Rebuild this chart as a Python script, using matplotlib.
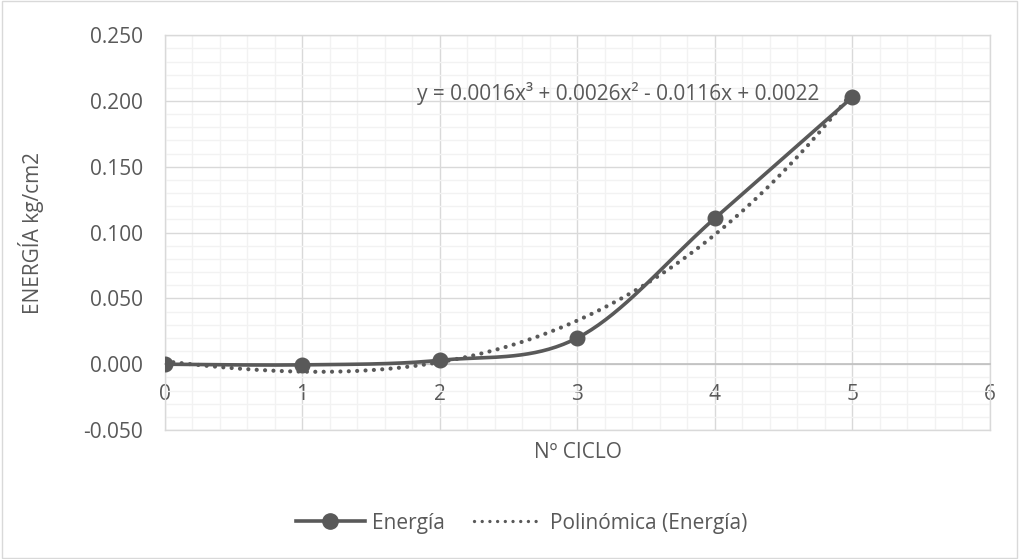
import matplotlib.pyplot as plt
import numpy as np
from matplotlib.patches import Rectangle
from matplotlib.lines import Line2D

plt.rcParams['font.family'] = ['Open Sans', 'DejaVu Sans']

ciclo = [0, 1, 2, 3, 4, 5]
energia = [0.000, -0.0005, 0.003, 0.020, 0.111, 0.203]
y_ticks = [-0.050, 0.000, 0.050, 0.100, 0.150, 0.200, 0.250]
x_ticks = [0, 1, 2, 3, 4, 5, 6]

GRAY = '#595959'
TXT = '#595959'
FS = 15


def smooth(x, y, n=40):
    # catmull-rom style smoothing like Excel's smoothed line
    x = np.asarray(x, float)
    y = np.asarray(y, float)
    px = np.concatenate([[x[0]], x, [x[-1]]])
    py = np.concatenate([[y[0]], y, [y[-1]]])
    xs, ys = [], []
    t = np.linspace(0, 1, n)
    for i in range(1, len(px) - 2):
        p0 = np.array([px[i], py[i]])
        p3 = np.array([px[i + 1], py[i + 1]])
        c1 = p0 + (np.array([px[i + 1], py[i + 1]]) - np.array([px[i - 1], py[i - 1]])) / 6
        c2 = p3 - (np.array([px[i + 2], py[i + 2]]) - p0) / 6
        b = ((1 - t) ** 3)[:, None] * p0 + (3 * (1 - t) ** 2 * t)[:, None] * c1 \
            + (3 * (1 - t) * t ** 2)[:, None] * c2 + (t ** 3)[:, None] * p3
        xs.extend(b[:, 0])
        ys.extend(b[:, 1])
    return np.array(xs), np.array(ys)


fig = plt.figure(figsize=(10.19, 5.59), dpi=100)
ax = fig.add_axes([0.1619, 0.2308, 0.8096, 0.7062])

ax.set_xlim(0, 6)
ax.set_ylim(-0.05, 0.25)
ax.set_xticks(x_ticks)
ax.set_yticks(y_ticks)
ax.set_xticks(np.arange(0, 6.01, 0.2), minor=True)
ax.set_yticks(np.arange(-0.05, 0.2501, 0.01), minor=True)
ax.grid(which='minor', color='#f2f2f2', linewidth=1.0)
ax.grid(which='major', color='#d9d9d9', linewidth=1.0)
ax.set_axisbelow(True)

for s in ['left', 'top', 'right']:
    ax.spines[s].set_color('#d9d9d9')
    ax.spines[s].set_linewidth(1.0)
ax.spines['bottom'].set_position(('data', 0))
ax.spines['bottom'].set_color('#bfbfbf')
ax.spines['bottom'].set_linewidth(1.2)
ax.axhline(-0.05, color='#d9d9d9', linewidth=1.0, clip_on=False, zorder=0.5)

ax.tick_params(which='both', length=0)
ax.tick_params(axis='x', pad=14, labelsize=FS, labelcolor=TXT)
ax.tick_params(axis='y', pad=16, labelsize=FS, labelcolor=TXT)
ax.set_yticklabels([f'{v:.3f}' for v in y_ticks])
ax.set_xticklabels([str(v) for v in x_ticks])

# polynomial trendline
coef = np.polyfit(ciclo, energia, 3)
xf = np.linspace(0, 5, 200)
ax.plot(xf, np.polyval(coef, xf), color=GRAY, linestyle=(0, (0.01, 2.0)),
        dash_capstyle='round', linewidth=3.0, zorder=3)

sx, sy = smooth(ciclo, energia)
ax.plot(sx, sy, color=GRAY, linewidth=2.6, zorder=4)
ax.plot(ciclo, energia, 'o', color=GRAY, markersize=10.5, zorder=5)

ax.text(1.83, 0.2055, 'y = 0.0016x³ + 0.0026x² - 0.0116x + 0.0022',
        fontsize=FS, color=TXT, ha='left', va='center')

fig.text(0.567, 0.191, 'Nº CICLO', fontsize=FS, color=TXT, ha='center', va='center')
fig.text(0.03, 0.583, 'ENERGÍA kg/cm2', fontsize=FS, color=TXT, ha='center',
         va='center', rotation=90)

h1 = Line2D([], [], color=GRAY, linewidth=2.6, marker='o', markersize=11)
h2 = Line2D([], [], color=GRAY, linewidth=2.4, linestyle=(0, (0.01, 2.3)),
            dash_capstyle='round')
fig.legend([h1, h2], ['Energía', 'Polinómica (Energía)'], loc='center',
           bbox_to_anchor=(0.512, 0.064), ncol=2, frameon=False, fontsize=FS,
           labelcolor=TXT, handlelength=3.3, columnspacing=1.4, handletextpad=0.35)

fig.patches.append(Rectangle((0.002, 0.002), 0.996, 0.996, transform=fig.transFigure,
                             fill=False, edgecolor='#d9d9d9', linewidth=1.0))

fig.savefig('out.png', dpi=100)
